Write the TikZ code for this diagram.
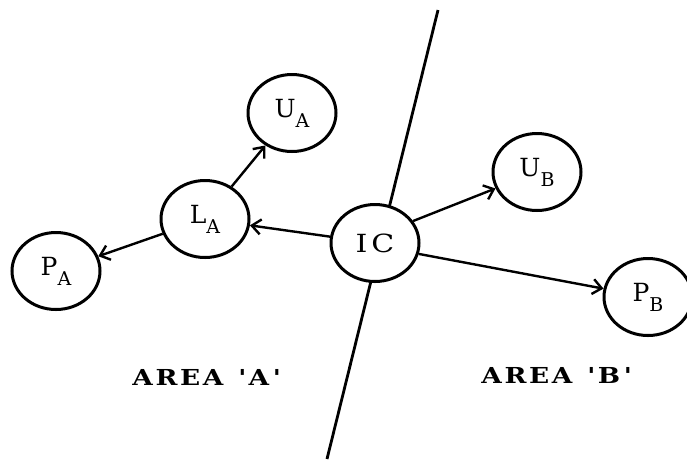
\documentclass[tikz,border=0pt]{standalone}
\usepackage{fontspec}
\setmainfont{DejaVu Serif}
\usepackage{tikz}
\usetikzlibrary{arrows.meta, positioning, shapes.geometric}

\newcommand{\lowidx}[1]{\raisebox{-10pt}{\fontsize{19}{19}\selectfont #1}}

\tikzset{
  areanode/.style={ellipse, draw, line width=3pt, fill=white,
    minimum width=88pt, minimum height=77pt, inner sep=0pt,
    font=\fontsize{25}{27}\selectfont},
  flow/.style={line width=2.4pt, -{Straight Barb[length=9pt, width=15pt]}},
  arealabel/.style={anchor=base, font=\fontsize{22}{24}\selectfont\bfseries\addfontfeature{FakeStretch=1.2, LetterSpace=12}}
}

\begin{document}
\begin{tikzpicture}[x=1pt, y=-1pt]
\useasboundingbox (0,0) rectangle (687,459);

% -- Boundary between the two areas ----------------------------------------
\coordinate (btop) at (438,10);
\coordinate (bbot) at (327,459);
\draw[line width=2.8pt] (btop) -- (bbot);

% -- Area 'A' ---------------------------------------------------------------
\node[areanode] (ua) at (292,113) {U\lowidx{A}};
\node[areanode] (la) at (205,219) {L\lowidx{A}};
\node[areanode] (pa) at (56,271)  {P\lowidx{A}};

% -- Interconnection --------------------------------------------------------
\node[areanode] (ic) at (375,243) {\addfontfeature{FakeStretch=1.2, LetterSpace=15}IC};

% -- Area 'B' ---------------------------------------------------------------
\node[areanode] (ub) at (537,172) {U\lowidx{B}};
\node[areanode] (pb) at (648,297) {P\lowidx{B}};

% -- Flows ------------------------------------------------------------------
\draw[flow] (la) -- (ua);
\draw[flow] (la) -- (pa);
\draw[flow] (ic) -- (la);
\draw[flow] (ic.30) -- (ub);
\draw[flow] (ic.-14) -- (pb);

% -- Area labels ------------------------------------------------------------
\node[arealabel] (lbla) at (206,385) {AREA\hspace{15pt}\textquotesingle\,A\,\textquotesingle};
\node[arealabel] (lblb) at (556,383) {AREA\hspace{15pt}\textquotesingle\,B\,\textquotesingle};

\end{tikzpicture}
\end{document}
